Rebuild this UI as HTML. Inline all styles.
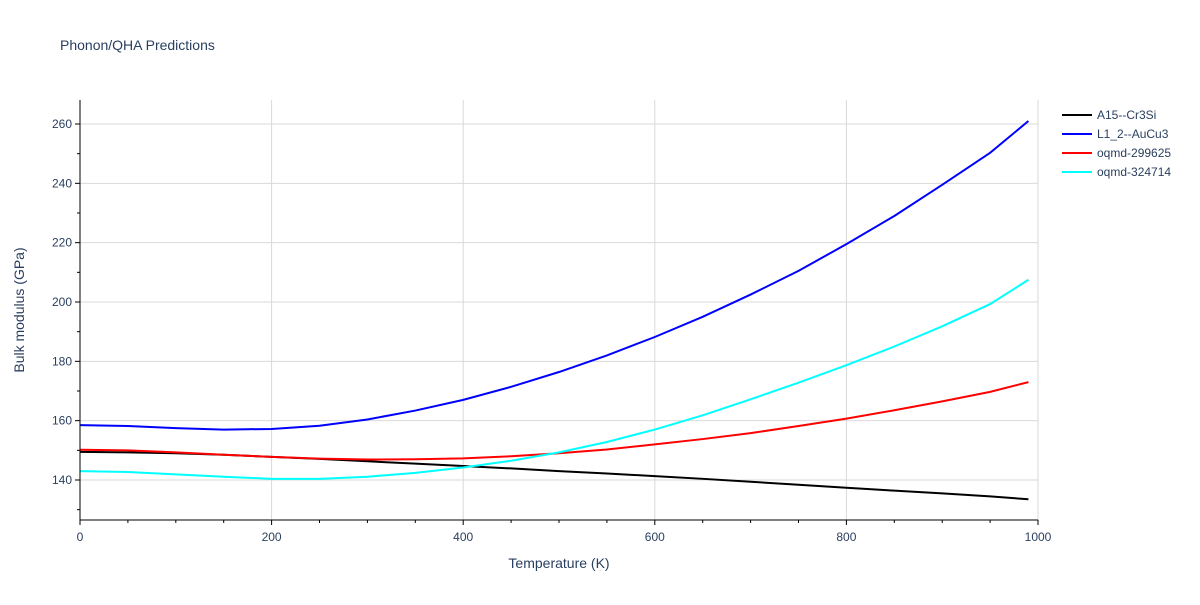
<!DOCTYPE html>
<html><head><meta charset="utf-8"><style>
body{margin:0;background:#fff;font-family:"Liberation Sans",sans-serif}
svg text{font-family:"Liberation Sans",sans-serif;fill:#2a3f5f}
</style></head><body>
<svg width="1200" height="600">
<rect width="1200" height="600" fill="#fff"/>
<text x="60" y="50" font-size="14">Phonon/QHA Predictions</text>
<g id="grid"></g>
<g id="series"></g>
<g id="axes"></g>
<text x="559" y="568" font-size="14" text-anchor="middle">Temperature (K)</text>
<text transform="translate(24,310) rotate(-90)" font-size="14" text-anchor="middle">Bulk modulus (GPa)</text>
<g id="legend"></g>
</svg>
<script>
const temps=[0,50,100,150,200,250,300,350,400,450,500,550,600,650,700,750,800,850,900,950,990];
const seriesNames=["A15--Cr3Si","L1_2--AuCu3","oqmd-299625","oqmd-324714"];
const seriesColors=["#000000","#0000ff","#ff0000","#00ffff"];
const a15=[149.5,149.3,149,148.5,147.8,147.1,146.3,145.5,144.7,143.9,143,142.2,141.3,140.4,139.4,138.4,137.4,136.4,135.5,134.5,133.5];
const l12=[158.5,158.2,157.5,157,157.2,158.3,160.4,163.4,167,171.4,176.4,182,188.2,195,202.5,210.5,219.5,229,239.5,250.3,261];
const oq1=[150.2,150,149.3,148.5,147.8,147.2,146.9,147,147.3,148,149,150.3,152,153.8,155.8,158.2,160.7,163.5,166.5,169.7,173];
const oq2=[143,142.7,141.9,141.1,140.4,140.4,141.1,142.4,144.2,146.5,149.3,152.8,157,161.8,167.2,172.8,178.7,185,191.8,199.3,207.5];
const allSeries=[a15,l12,oq1,oq2];
const xTicks=[0,200,400,600,800,1000];
const yTicks=[140,160,180,200,220,240,260];
const X0=80,X1=1038,T=100,B=520;
const sx=v=>X0+(v-0)/(1000-0)*(X1-X0);
const sy=v=>480-(v-140)*(356/120);
const NS="http://www.w3.org/2000/svg";
function mk(tag,attrs,parent){const e=document.createElementNS(NS,tag);for(const k in attrs)e.setAttribute(k,attrs[k]);parent.appendChild(e);return e;}
const grid=document.getElementById('grid'),axes=document.getElementById('axes'),ser=document.getElementById('series'),leg=document.getElementById('legend');
xTicks.forEach(t=>{
 const l=mk('line',{x1:sx(t),x2:sx(t),y1:T,y2:B,stroke:'#d9d9d9'},grid);
 
 
 const tx=mk('text',{x:sx(t),y:541,'font-size':12,'text-anchor':'middle'},axes);tx.textContent=t;
 
 
});
for(let t=0;t<=1000;t+=50){mk('line',{x1:sx(t),x2:sx(t),y1:B,y2:B+(t%200===0?5:3),stroke:'#000'},axes);}
yTicks.forEach(t=>{
 const l=mk('line',{x1:X0,x2:X1,y1:sy(t),y2:sy(t),stroke:'#d9d9d9'},grid);
 
 
 const tx=mk('text',{x:72,y:sy(t)+4,'font-size':12,'text-anchor':'end'},axes);tx.textContent=t;
 
 
});
for(let t=130;t<=265;t+=10){mk('line',{x1:X0-(t%20===0?5:3),x2:X0,y1:sy(t),y2:sy(t),stroke:'#000'},axes);}
const xa=mk('line',{x1:X0,x2:X1,y1:B,y2:B,stroke:'#000'},axes);


const ya=mk('line',{x1:X0,x2:X0,y1:T,y2:B,stroke:'#000'},axes);


allSeries.forEach((vals,i)=>{
 const p=mk('polyline',{points:vals.map((v,j)=>sx(temps[j])+','+sy(v)).join(' '),fill:'none',stroke:seriesColors[i],'stroke-width':2},ser);
 
 
 const g=mk('g',{},leg);
 
 
 const y=115+i*19;
 mk('line',{x1:1062,x2:1092,y1:y,y2:y,stroke:seriesColors[i],'stroke-width':2},g);
 const tx=mk('text',{x:1097,y:y+4,'font-size':12},g);tx.textContent=seriesNames[i];
});
</script>
</body></html>
